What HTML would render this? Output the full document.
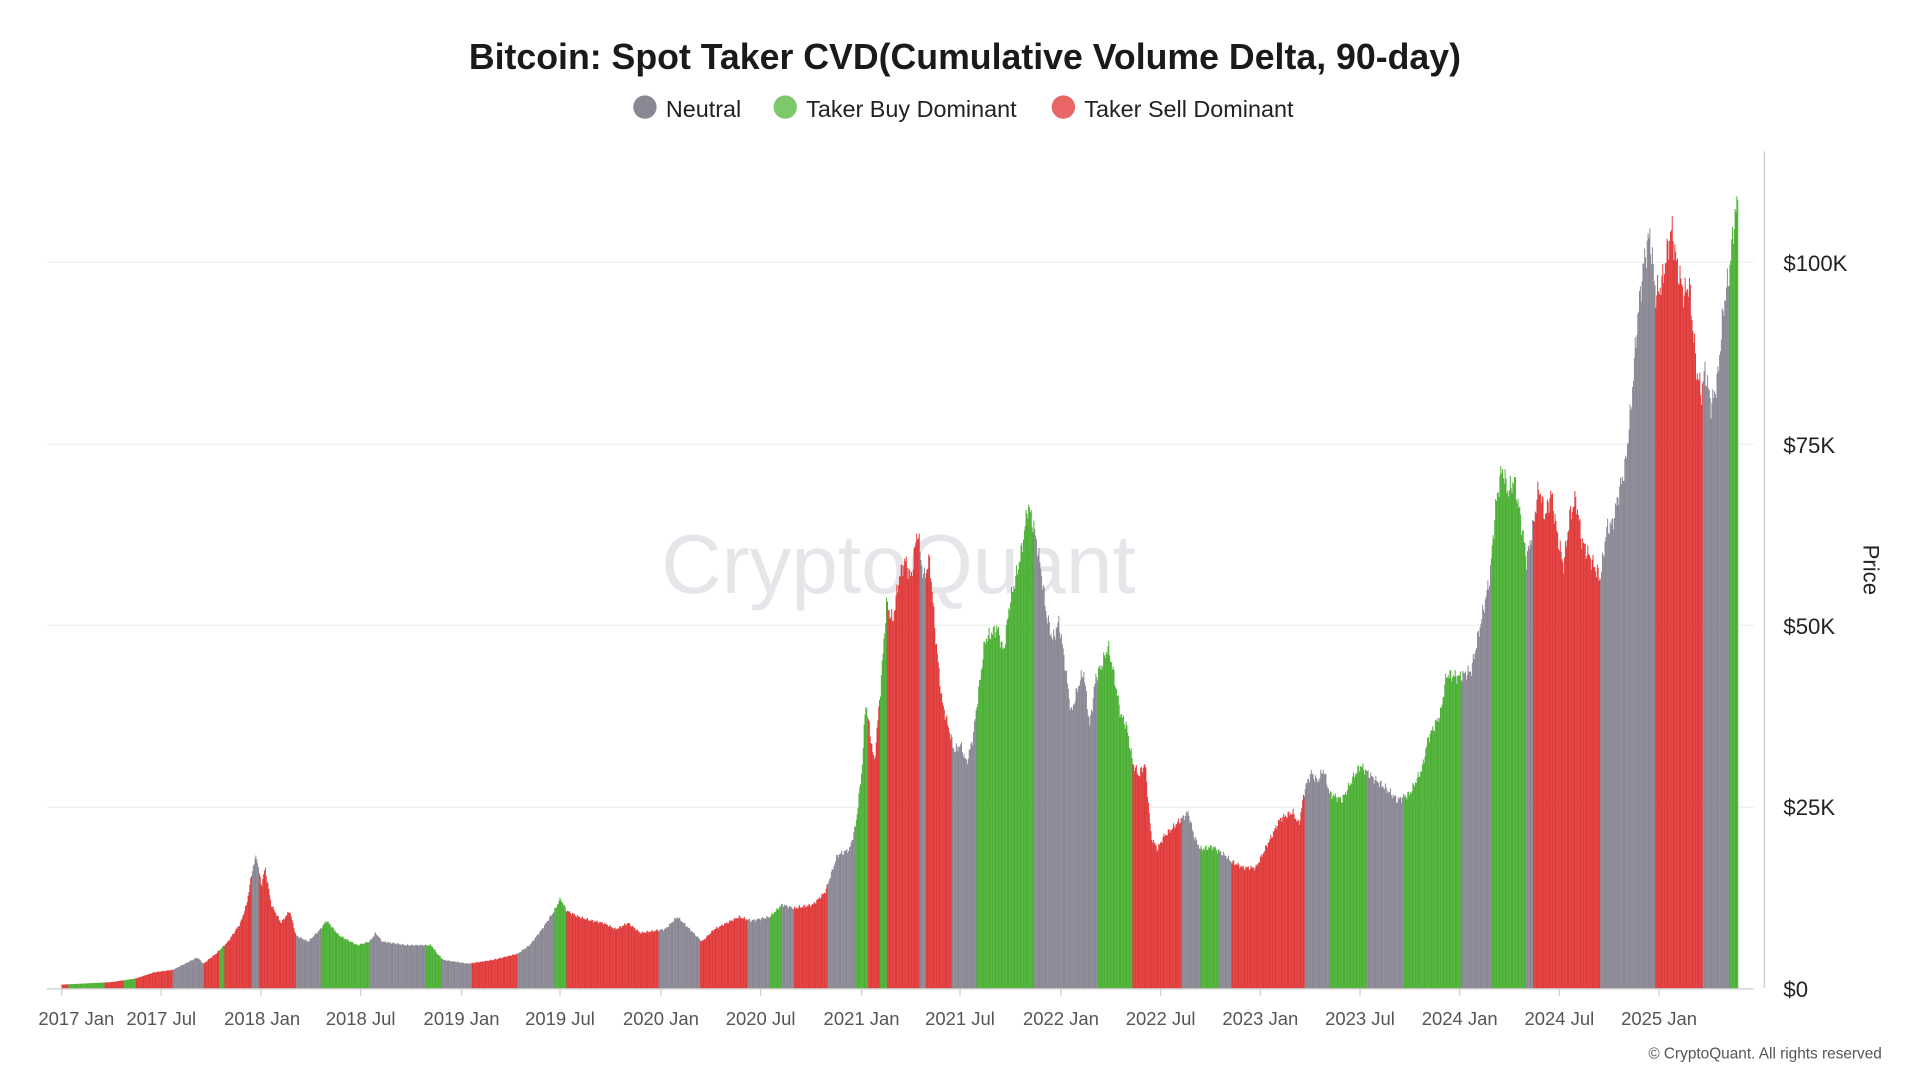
<!DOCTYPE html>
<html><head><meta charset="utf-8"><style>
html,body{margin:0;padding:0;background:#fff;width:1920px;height:1080px;overflow:hidden}
svg{display:block}
</style></head><body>
<svg id="s" width="1920" height="1080" viewBox="0 0 1560 877.5" xmlns="http://www.w3.org/2000/svg" font-family="Liberation Sans, sans-serif">
<rect width="1560" height="877.5" fill="#fff"/>
<text x="784" y="56" text-anchor="middle" font-size="29" font-weight="bold" fill="#1a1a1a">Bitcoin: Spot Taker CVD(Cumulative Volume Delta, 90-day)</text>
<circle cx="524" cy="87" r="9.5" fill="#8a8794"/><text x="541" y="95" font-size="19" fill="#222">Neutral</text>
<circle cx="638" cy="87" r="9.5" fill="#7dc86a"/><text x="655" y="95" font-size="19" fill="#222">Taker Buy Dominant</text>
<circle cx="864" cy="87" r="9.5" fill="#e96666"/><text x="881" y="95" font-size="19" fill="#222">Taker Sell Dominant</text>
<g stroke="#f0f0f0" stroke-width="1">
<line x1="38" x2="1425" y1="213" y2="213"/><line x1="38" x2="1425" y1="361" y2="361"/>
<line x1="38" x2="1425" y1="508" y2="508"/><line x1="38" x2="1425" y1="656" y2="656"/>
</g>
<text x="730" y="482" text-anchor="middle" font-size="68" fill="#e6e6ea">CryptoQuant</text>
<g id="bars"></g>
<line x1="38" x2="1425" y1="803.5" y2="803.5" stroke="#ccc"/>
<line x1="1433.5" x2="1433.5" y1="123" y2="803" stroke="#ccc"/>
<g font-size="18" fill="#222">
<text x="1449" y="220">$100K</text><text x="1449" y="368">$75K</text><text x="1449" y="515">$50K</text><text x="1449" y="662">$25K</text><text x="1449" y="810">$0</text>
</g>
<text transform="translate(1514,463) rotate(90)" text-anchor="middle" font-size="18" fill="#222">Price</text>
<g id="xt" font-size="15" fill="#555" text-anchor="middle"></g>
<text x="1529" y="860" text-anchor="end" font-size="12.5" fill="#555">© CryptoQuant. All rights reserved</text>
</svg>
<script>
var P=[[50,800],[90,798],[110,795],[125,790],[140,788],[150,783],[160,778],[165,783],[175,775],[185,765],[195,750],[200,735],[205,705],[208,695],[212,720],[215,705],[220,735],[228,750],[235,740],[240,760],[250,765],[260,755],[265,748],[275,760],[290,768],[300,765],[305,758],[310,765],[330,768],[350,768],[355,775],[360,780],[380,783],[400,780],[420,775],[430,768],[440,755],[450,740],[455,730],[460,740],[470,745],[480,748],[490,750],[500,755],[510,750],[520,758],[540,755],[550,745],[560,755],[570,765],[580,755],[590,750],[600,745],[610,748],[625,745],[635,735],[645,738],[660,735],[670,725],[680,695],[690,690],[695,670],[700,625],[703,570],[710,620],[715,560],[720,490],[725,505],[730,470],[735,455],[740,470],[745,430],[750,470],[755,455],[760,520],[765,570],[770,590],[775,610],[780,605],[785,620],[790,600],[795,560],[800,520],[810,510],[815,530],[820,490],[825,470],[830,445],[835,410],[840,430],[845,460],[850,500],[855,520],[860,505],[865,540],[870,580],[875,560],[880,545],[885,590],[890,550],[895,540],[900,525],[905,550],[910,580],[915,590],[920,620],[925,630],[930,620],[935,680],[940,690],[945,680],[955,670],[965,660],[970,680],[975,690],[985,688],[995,695],[1000,700],[1010,705],[1020,705],[1030,685],[1040,665],[1050,660],[1055,670],[1060,640],[1065,628],[1070,635],[1075,625],[1080,645],[1090,650],[1100,630],[1105,622],[1115,632],[1125,640],[1135,650],[1145,645],[1155,625],[1160,600],[1170,580],[1175,548],[1185,550],[1195,545],[1200,520],[1205,495],[1210,470],[1215,410],[1220,380],[1225,400],[1230,390],[1235,420],[1240,455],[1245,430],[1250,395],[1255,420],[1260,400],[1265,435],[1270,460],[1275,420],[1280,405],[1285,440],[1290,450],[1295,460],[1300,470],[1305,430],[1310,425],[1315,400],[1320,380],[1325,330],[1330,260],[1335,215],[1340,190],[1345,240],[1350,230],[1355,200],[1358,185],[1362,215],[1368,240],[1372,230],[1378,300],[1382,320],[1385,300],[1390,330],[1395,310],[1400,250],[1405,220],[1408,185],[1412,160]];
var G='#8a8794',N='#4cb035',R='#e03a3a';
var C=[[50,R],[55,N],[85,R],[100,N],[110,R],[140,G],[165,R],[178,N],[182,R],[204,G],[210,R],[240,G],[260,N],[300,G],[345,N],[358,G],[383,R],[420,G],[450,N],[460,R],[535,G],[568,R],[607,G],[625,N],[635,G],[645,R],[672,G],[695,N],[705,R],[715,N],[720,R],[747,G],[752,R],[757,R],[773,G],[793,N],[840,G],[892,N],[920,R],[960,G],[975,N],[990,G],[1000,R],[1060,G],[1080,N],[1110,G],[1140,N],[1187,G],[1212,N],[1240,G],[1245,R],[1300,G],[1345,R],[1383,G],[1405,N]];
function yAt(x){for(var i=1;i<P.length;i++){if(x<=P[i][0]){var a=P[i-1],b=P[i],t=(x-a[0])/(b[0]-a[0]);return a[1]+t*(b[1]-a[1]);}}return P[P.length-1][1];}
function col(x){var c=C[0][1];for(var i=0;i<C.length;i++){if(x>=C[i][0])c=C[i][1];}return c;}
var h='';
for(var x=50;x<=1412;x+=0.7){var y=yAt(x);var hgt=803-y;var n=Math.sin(x*7.3)*0.5+Math.sin(x*3.1)*0.5;y=y-n*hgt*0.025;if(y>801)y=801;
h+='<rect x="'+x.toFixed(2)+'" y="'+y.toFixed(2)+'" width="0.8" height="'+(803-y).toFixed(2)+'" fill="'+col(x)+'"/>';}
document.getElementById('bars').innerHTML=h;
var L=[['2017 Jan',62,50],['2017 Jul',131,131],['2018 Jan',213,212],['2018 Jul',293,293],['2019 Jan',375,375],['2019 Jul',455,455],['2020 Jan',537,537],['2020 Jul',618,618],['2021 Jan',700,700],['2021 Jul',780,780],['2022 Jan',862,862],['2022 Jul',943,943],['2023 Jan',1024,1024],['2023 Jul',1105,1105],['2024 Jan',1186,1186],['2024 Jul',1267,1267],['2025 Jan',1348,1348]];
var t='';L.forEach(function(l){t+='<text x="'+l[1]+'" y="833">'+l[0]+'</text><line x1="'+l[2]+'" x2="'+l[2]+'" y1="803" y2="809" stroke="#ccc"/>';});
document.getElementById('xt').innerHTML=t;
</script>
</body></html>
